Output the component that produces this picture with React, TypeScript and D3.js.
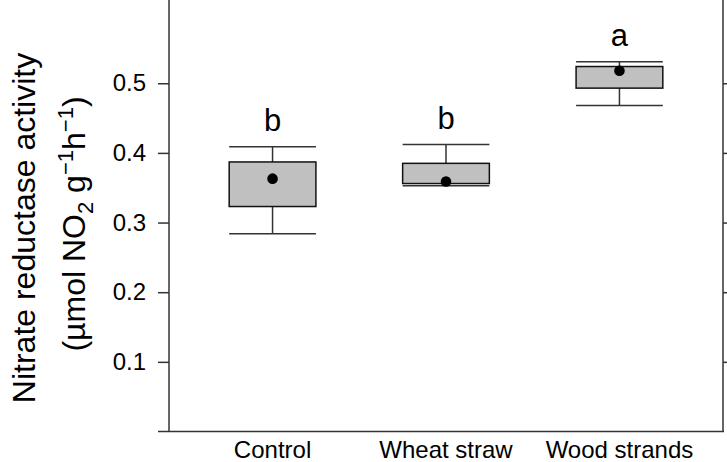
import React, { useEffect, useRef } from "react";
import * as d3 from "d3";

// data
const categories = ["Control", "Wheat straw", "Wood strands"];
const whiskerLow = [0.284, 0.353, 0.468];
const boxLow = [0.323, 0.356, 0.493];
const boxHigh = [0.387, 0.385, 0.524];
const whiskerHigh = [0.409, 0.412, 0.531];
const means = [0.363, 0.359, 0.518];
const letters = ["b", "b", "a"];
const yTicks = [0.1, 0.2, 0.3, 0.4, 0.5];

const W = 727;
const H = 462;
const FONT = "'Liberation Sans', Arial, Helvetica, sans-serif";

export default function App() {
  const ref = useRef<SVGSVGElement>(null);

  useEffect(() => {
    const svg = d3.select(ref.current);
    svg.selectAll("*").remove();

    const left = 169;
    const right = 723;
    const bottom = 431.5;

    const x = d3.scalePoint<string>()
      .domain(categories)
      .range([left, right])
      .padding(0.597);

    const y = d3.scaleLinear()
      .domain([0, 0.5])
      .range([bottom, 83.25]);

    const half = x.step() * 0.25;
    const lineColor = "#333";

    // left axis
    const yAxis = d3.axisLeft(y)
      .tickValues(yTicks)
      .tickFormat(d3.format(".1f"))
      .tickSize(11)
      .tickPadding(12);

    const gl = svg.append("g")
      .attr("transform", `translate(${left},0)`)
      .call(yAxis);
    gl.select(".domain").remove();
    gl.selectAll(".tick line").attr("stroke", lineColor).attr("stroke-width", 1.5);
    gl.selectAll(".tick text")
      .attr("font-family", FONT)
      .attr("font-size", 24)
      .attr("fill", "#000");

    // right axis ticks
    const gr = svg.append("g")
      .attr("transform", `translate(${right},0)`)
      .call(d3.axisRight(y).tickValues(yTicks).tickSize(11).tickFormat(() => ""));
    gr.select(".domain").remove();
    gr.selectAll(".tick line").attr("stroke", lineColor).attr("stroke-width", 1.5);

    // frame lines
    svg.append("line")
      .attr("x1", left).attr("x2", left)
      .attr("y1", 0).attr("y2", bottom)
      .attr("stroke", lineColor).attr("stroke-width", 1.5);
    svg.append("line")
      .attr("x1", right).attr("x2", right)
      .attr("y1", 0).attr("y2", bottom)
      .attr("stroke", lineColor).attr("stroke-width", 1.5);
    svg.append("line")
      .attr("x1", left - 11).attr("x2", right + 1)
      .attr("y1", bottom).attr("y2", bottom)
      .attr("stroke", lineColor).attr("stroke-width", 1.5);

    // category labels
    svg.selectAll(".cat")
      .data(categories)
      .enter()
      .append("text")
      .attr("class", "cat")
      .attr("x", d => x(d)!)
      .attr("y", 458)
      .attr("text-anchor", "middle")
      .attr("font-family", FONT)
      .attr("font-size", 24)
      .text(d => d);

    const idx = d3.range(categories.length);
    const g = svg.append("g");

    // whiskers
    g.selectAll(".stem")
      .data(idx)
      .enter()
      .append("line")
      .attr("x1", i => x(categories[i])!)
      .attr("x2", i => x(categories[i])!)
      .attr("y1", i => y(whiskerLow[i]))
      .attr("y2", i => y(whiskerHigh[i]))
      .attr("stroke", lineColor)
      .attr("stroke-width", 1.5);

    [whiskerLow, whiskerHigh].forEach(arr => {
      g.selectAll(null)
        .data(idx)
        .enter()
        .append("line")
        .attr("x1", i => x(categories[i])! - half)
        .attr("x2", i => x(categories[i])! + half)
        .attr("y1", i => y(arr[i]))
        .attr("y2", i => y(arr[i]))
        .attr("stroke", lineColor)
        .attr("stroke-width", 1.5);
    });

    // boxes
    g.selectAll(".box")
      .data(idx)
      .enter()
      .append("rect")
      .attr("x", i => x(categories[i])! - half)
      .attr("width", half * 2)
      .attr("y", i => y(boxHigh[i]))
      .attr("height", i => y(boxLow[i]) - y(boxHigh[i]))
      .attr("fill", "#c0c0c0")
      .attr("stroke", "#111")
      .attr("stroke-width", 1.5);

    // means
    g.selectAll(".mean")
      .data(idx)
      .enter()
      .append("circle")
      .attr("cx", i => x(categories[i])!)
      .attr("cy", i => y(means[i]))
      .attr("r", 5.3)
      .attr("fill", "#000");

    // significance letters
    g.selectAll(".letter")
      .data(idx)
      .enter()
      .append("text")
      .attr("x", i => x(categories[i])!)
      .attr("y", i => y(whiskerHigh[i]) - 16)
      .attr("text-anchor", "middle")
      .attr("font-family", FONT)
      .attr("font-size", 31)
      .text(i => letters[i]);

    // y title
    svg.append("text")
      .attr("transform", "translate(35,228) rotate(-90)")
      .attr("text-anchor", "middle")
      .attr("font-family", FONT)
      .attr("font-size", 32)
      .text("Nitrate reductase activity");

    const t2 = svg.append("text")
      .attr("transform", "translate(85,224) rotate(-90)")
      .attr("text-anchor", "middle")
      .attr("font-family", FONT)
      .attr("font-size", 32);
    t2.append("tspan").text("(\u00b5mol NO");
    t2.append("tspan").attr("font-size", 22).attr("dy", 8).text("2");
    t2.append("tspan").attr("dy", -8).text(" g");
    t2.append("tspan").attr("font-size", 22).attr("dy", -12).text("\u22121");
    t2.append("tspan").attr("dy", 12).text("h");
    t2.append("tspan").attr("font-size", 22).attr("dy", -12).text("\u22121");
    t2.append("tspan").attr("dy", 12).text(")");
  }, []);

  return (
    <div style={{ position: "absolute", left: 0, top: 0 }}>
      <svg ref={ref} width={W} height={H} style={{ display: "block", background: "#fff" }}></svg>
    </div>
  );
}
